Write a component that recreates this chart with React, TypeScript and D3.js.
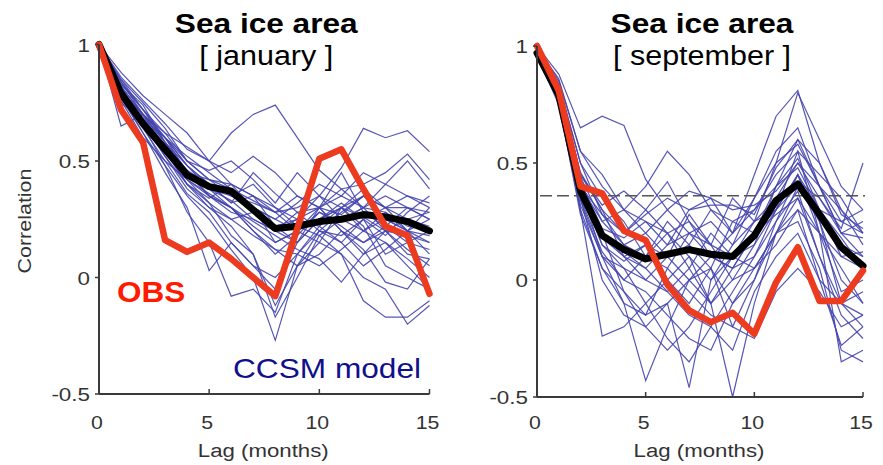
import * as d3 from 'd3';

// lag axis, months
const lags = d3.range(0, 16);
const yTicks = [1, 0.5, 0, -0.5];
const xTicks = [0, 5, 10, 15];

// january: observations, ensemble mean, ensemble members
const janObs = [1, 0.72, 0.58, 0.16, 0.11, 0.15, 0.08, 0.0, -0.08, 0.21, 0.51, 0.55, 0.38, 0.22, 0.18, -0.07];
const janMean = [1, 0.79, 0.66, 0.55, 0.44, 0.39, 0.37, 0.29, 0.21, 0.22, 0.24, 0.25, 0.27, 0.26, 0.24, 0.2];
const janMembers = [
  [1, 0.86, 0.76, 0.66, 0.55, 0.5, 0.62, 0.7, 0.74, 0.6, 0.46, 0.38, 0.3, 0.35, 0.3, 0.28],
  [1, 0.84, 0.72, 0.62, 0.5, 0.42, 0.38, 0.33, 0.28, 0.3, 0.35, 0.47, 0.64, 0.6, 0.63, 0.54],
  [1, 0.82, 0.7, 0.6, 0.48, 0.4, 0.32, 0.45, 0.36, 0.28, 0.3, 0.38, 0.4, 0.45, 0.53, 0.42],
  [1, 0.8, 0.68, 0.55, 0.42, 0.35, 0.3, 0.2, 0.12, 0.05, 0.15, 0.1, 0.0, -0.05, -0.2, -0.12],
  [1, 0.77, 0.62, 0.48, 0.35, 0.25, 0.12, 0.0, -0.27, 0.05, 0.1, 0.2, 0.15, 0.2, 0.1, 0.08],
  [1, 0.8, 0.66, 0.52, 0.4, 0.3, 0.22, 0.1, -0.17, 0.0, 0.18, 0.1, -0.1, -0.17, -0.17, -0.1],
  [1, 0.83, 0.74, 0.58, 0.45, 0.42, 0.4, 0.35, 0.3, 0.25, 0.22, 0.3, 0.26, 0.2, 0.18, 0.15],
  [1, 0.75, 0.68, 0.57, 0.46, 0.35, 0.28, 0.25, 0.2, 0.15, 0.25, 0.3, 0.22, 0.05, 0.0, -0.05],
  [1, 0.88, 0.78, 0.7, 0.62, 0.5, 0.45, 0.52, 0.45, 0.35, 0.3, 0.27, 0.35, 0.3, 0.3, 0.25],
  [1, 0.8, 0.7, 0.6, 0.52, 0.45, 0.38, 0.3, 0.25, 0.2, 0.28, 0.24, 0.3, 0.4, 0.35, 0.3],
  [1, 0.76, 0.6, 0.5, 0.42, 0.36, 0.3, 0.22, 0.15, 0.2, 0.3, 0.45, 0.28, 0.22, 0.15, 0.12],
  [1, 0.82, 0.66, 0.54, 0.4, 0.32, 0.25, 0.18, 0.12, 0.1, 0.22, 0.15, 0.05, 0.12, 0.2, 0.18],
  [1, 0.65, 0.7, 0.6, 0.48, 0.38, 0.35, 0.4, 0.3, 0.22, 0.18, 0.25, 0.3, 0.28, 0.22, 0.2],
  [1, 0.85, 0.75, 0.64, 0.5, 0.46, 0.5, 0.42, 0.32, 0.45, 0.35, 0.3, 0.38, 0.3, 0.35, 0.32],
  [1, 0.79, 0.64, 0.5, 0.36, 0.28, 0.15, 0.05, 0.0, 0.1, 0.05, 0.12, 0.2, 0.15, 0.08, 0.0],
  [1, 0.81, 0.68, 0.56, 0.44, 0.38, 0.33, 0.25, 0.2, 0.28, 0.2, 0.18, 0.25, 0.3, 0.25, 0.22],
  [1, 0.84, 0.7, 0.58, 0.46, 0.4, 0.36, 0.3, 0.22, 0.15, 0.25, 0.32, 0.25, 0.18, 0.28, 0.35],
  [1, 0.78, 0.66, 0.52, 0.38, 0.3, 0.25, 0.28, 0.2, 0.25, 0.35, 0.25, 0.2, 0.25, 0.2, 0.15],
  [1, 0.8, 0.68, 0.6, 0.5, 0.42, 0.35, 0.32, 0.28, 0.35, 0.3, 0.35, 0.3, 0.2, 0.12, 0.05],
  [1, 0.83, 0.72, 0.6, 0.45, 0.35, 0.3, 0.24, 0.18, 0.12, 0.08, -0.02, 0.1, 0.2, 0.25, 0.28],
  [1, 0.82, 0.7, 0.56, 0.42, 0.32, 0.18, 0.1, -0.12, 0.05, 0.2, 0.28, 0.35, 0.3, 0.2, 0.1],
  [1, 0.8, 0.7, 0.62, 0.56, 0.5, 0.4, 0.3, 0.25, 0.32, 0.4, 0.35, 0.45, 0.4, 0.5, 0.38],
  [1, 0.77, 0.65, 0.55, 0.45, 0.4, 0.35, 0.3, 0.15, 0.2, 0.15, 0.3, 0.2, 0.28, 0.2, 0.3],
  [1, 0.85, 0.72, 0.58, 0.45, 0.38, 0.3, 0.2, 0.1, 0.18, 0.28, 0.22, 0.15, 0.22, 0.3, 0.25],
  [1, 0.79, 0.66, 0.55, 0.4, 0.34, 0.4, 0.35, 0.22, 0.25, 0.3, 0.2, 0.12, -0.02, -0.05, 0.08],
  [1, 0.81, 0.69, 0.58, 0.48, 0.4, 0.32, 0.35, 0.28, 0.2, 0.25, 0.3, 0.35, 0.25, 0.2, 0.25],
  [1, 0.78, 0.62, 0.45, 0.3, 0.03, 0.15, 0.05, -0.05, 0.15, 0.3, 0.2, 0.1, 0.15, 0.05, -0.05],
  [1, 0.8, 0.65, 0.48, 0.28, 0.15, -0.08, -0.05, -0.15, 0.1, 0.2, 0.15, 0.25, 0.1, 0.15, 0.2],
];

// september
const sepObs = [1, 0.81, 0.4, 0.37, 0.21, 0.17, -0.02, -0.13, -0.18, -0.14, -0.23, -0.01, 0.14, -0.09, -0.09, 0.04];
const sepMean = [0.97, 0.79, 0.38, 0.19, 0.13, 0.09, 0.11, 0.13, 0.11, 0.1, 0.19, 0.34, 0.41, 0.28, 0.14, 0.06];
const sepMembers = [
  [1, 0.88, 0.65, 0.7, 0.66, 0.43, 0.3, 0.2, 0.15, 0.1, 0.25, 0.5, 0.8, 0.6, 0.4, 0.3],
  [1, 0.85, 0.55, 0.45, 0.3, 0.4, 0.55, 0.45, 0.3, 0.2, 0.45, 0.7, 0.81, 0.5, 0.3, 0.2],
  [0.98, 0.8, 0.4, 0.1, -0.1, -0.43, -0.2, 0.0, -0.1, 0.05, 0.2, 0.4, 0.6, 0.4, 0.2, 0.1],
  [0.97, 0.78, 0.35, 0.0, -0.15, -0.2, -0.1, -0.46, 0.0, 0.1, 0.15, 0.3, 0.45, 0.3, 0.1, 0.05],
  [0.96, 0.75, 0.3, -0.24, -0.2, -0.1, 0.0, 0.1, -0.1, -0.5, -0.1, 0.2, 0.35, 0.1, -0.1, -0.05],
  [0.99, 0.82, 0.45, 0.3, 0.2, 0.28, 0.35, 0.3, 0.35, 0.3, 0.32, 0.38, 0.5, 0.35, 0.22, 0.5],
  [0.97, 0.8, 0.42, 0.2, 0.1, 0.05, 0.15, 0.2, 0.1, 0.05, 0.1, 0.3, 0.55, 0.2, -0.35, -0.3],
  [0.98, 0.83, 0.5, 0.35, 0.25, 0.1, 0.05, -0.05, -0.15, -0.2, 0.0, 0.25, 0.45, 0.25, -0.1, -0.2],
  [0.96, 0.77, 0.32, 0.1, 0.0, -0.05, -0.15, -0.25, -0.3, -0.1, 0.05, 0.2, 0.3, 0.0, -0.28, -0.2],
  [0.98, 0.81, 0.4, 0.25, 0.3, 0.2, 0.1, 0.15, 0.3, 0.25, 0.2, 0.35, 0.5, 0.4, 0.3, 0.15],
  [0.97, 0.79, 0.38, 0.15, 0.05, 0.0, 0.1, 0.28, 0.15, 0.0, 0.05, 0.2, 0.4, 0.3, 0.15, 0.1],
  [0.99, 0.84, 0.5, 0.28, 0.15, 0.2, 0.3, 0.38, 0.35, 0.2, 0.3, 0.45, 0.55, 0.45, 0.35, 0.2],
  [0.96, 0.76, 0.28, 0.05, -0.05, -0.2, -0.3, -0.2, -0.05, 0.1, 0.2, 0.28, 0.35, 0.2, 0.05, -0.1],
  [0.97, 0.8, 0.36, 0.18, 0.1, 0.15, 0.0, -0.1, 0.05, -0.2, -0.25, -0.05, 0.05, -0.05, -0.2, -0.15],
  [0.98, 0.82, 0.44, 0.25, 0.15, 0.1, 0.2, 0.1, 0.0, 0.15, 0.35, 0.55, 0.65, 0.4, 0.2, 0.25],
  [0.97, 0.79, 0.35, 0.12, 0.0, 0.1, 0.25, 0.15, 0.05, 0.25, 0.3, 0.4, 0.48, 0.3, 0.25, 0.3],
  [0.96, 0.78, 0.3, 0.05, -0.1, -0.15, 0.05, 0.2, 0.25, 0.15, 0.25, 0.35, 0.42, 0.35, 0.2, 0.18],
  [0.98, 0.83, 0.45, 0.32, 0.38, 0.3, 0.2, 0.25, 0.15, 0.35, 0.25, 0.3, 0.4, 0.25, 0.0, -0.1],
  [0.97, 0.8, 0.4, 0.18, 0.12, 0.05, -0.05, 0.05, 0.2, 0.1, 0.05, 0.15, 0.3, 0.2, 0.1, 0.12],
  [0.99, 0.86, 0.55, 0.4, 0.3, 0.25, 0.15, 0.3, 0.32, 0.32, 0.28, 0.48, 0.6, 0.5, 0.28, 0.22],
  [0.96, 0.77, 0.34, 0.1, 0.05, -0.1, -0.25, -0.35, -0.2, -0.05, 0.1, 0.25, 0.38, 0.1, -0.15, -0.25],
  [0.97, 0.81, 0.42, 0.22, 0.18, 0.25, 0.2, 0.05, -0.1, 0.0, 0.15, 0.4, 0.52, 0.3, 0.18, 0.05],
  [0.98, 0.8, 0.38, 0.15, 0.08, 0.15, 0.1, 0.0, 0.1, 0.05, 0.2, 0.3, 0.45, 0.2, -0.05, 0.0],
  [0.97, 0.79, 0.36, 0.2, -0.05, -0.15, -0.1, 0.0, 0.05, -0.1, 0.0, 0.2, 0.25, 0.05, -0.3, -0.35],
  [0.96, 0.78, 0.4, 0.28, 0.2, 0.3, 0.42, 0.25, 0.1, 0.2, 0.35, 0.5, 0.58, 0.4, 0.25, 0.2],
  [0.98, 0.82, 0.46, 0.3, 0.1, 0.0, -0.05, -0.15, -0.2, -0.3, -0.05, 0.1, 0.2, 0.0, -0.1, -0.15],
];
// significance level, september panel only
const sepSignif = 0.36;

const FONT = 'Liberation Sans, Arial, Helvetica, sans-serif';
const SX = 1.13; // source glyphs are a bit wider than Liberation Sans

function Txt({ x, y, size, anchor = 'middle', weight = 'normal', fill = '#222', sx = SX, rotate = 0, children }: any) {
  return (
    <text
      transform={`translate(${x},${y}) rotate(${rotate}) scale(${sx},1)`}
      fontFamily={FONT}
      fontSize={size}
      fontWeight={weight}
      textAnchor={anchor}
      fill={fill}
    >
      {children}
    </text>
  );
}

interface PanelProps {
  x0: number;
  x1: number;
  yTop: number;
  yBot: number;
  month: string;
  obs: number[];
  mean: number[];
  members: number[][];
  signif?: number;
}

function Panel({ x0, x1, yTop, yBot, month, obs, mean, members, signif }: PanelProps) {
  const x = d3.scaleLinear().domain([0, 15]).range([x0, x1]);
  const y = d3.scaleLinear().domain([-0.5, 1]).range([yBot, yTop]);
  const line = d3
    .line<number>()
    .x((_, i) => x(lags[i]))
    .y(d => y(d));
  const cx = (x0 + x1) / 2 + 2;
  const axisCol = '#3a3a3a';

  return (
    <g>
      <Txt x={cx} y={33} size={28} weight="bold" fill="#000">Sea ice area</Txt>
      <Txt x={cx} y={65} size={27} fill="#000">{`[ ${month} ]`}</Txt>

      {members.map((m, i) => (
        <path key={i} d={line(m)!} fill="none" stroke="#4444ae" strokeWidth={1.2} strokeOpacity={0.9} />
      ))}
      {signif !== undefined && (
        <line
          x1={x0 + 3}
          x2={x1 + 2}
          y1={y(signif)}
          y2={y(signif)}
          stroke="#555"
          strokeWidth={1.3}
          strokeDasharray="12,5"
        />
      )}
      <path d={line(mean)!} fill="none" stroke="#000" strokeWidth={7} strokeLinejoin="round" strokeLinecap="round" />
      <path d={line(obs)!} fill="none" stroke="#ec3b1f" strokeWidth={6.5} strokeLinejoin="round" strokeLinecap="round" />

      <line x1={x0} x2={x0} y1={yTop} y2={yBot} stroke={axisCol} strokeWidth={2} />
      <line x1={x0} x2={x1} y1={yBot} y2={yBot} stroke={axisCol} strokeWidth={2} />
      {yTicks.map(t => (
        <g key={t}>
          <line x1={x0 - 4} x2={x0} y1={y(t)} y2={y(t)} stroke={axisCol} strokeWidth={1.5} />
          <Txt x={x0 - 9} y={y(t) + 7} size={19} anchor="end" fill="#333" sx={1.18}>{String(t)}</Txt>
        </g>
      ))}
      {xTicks.map(t => (
        <g key={t}>
          {t > 0 && <line x1={x(t)} x2={x(t)} y1={yBot} y2={yBot - 5} stroke={axisCol} strokeWidth={1.5} />}
          <Txt x={x(t) - 2} y={429} size={19} fill="#333" sx={1.12}>{String(t)}</Txt>
        </g>
      ))}
      <Txt x={cx - 3} y={457} size={19} fill="#333" sx={1.17}>Lag (months)</Txt>
    </g>
  );
}

export default function App() {
  return (
    <svg
      width={883}
      height={465}
      style={{ position: 'absolute', left: 0, top: 0, background: '#fff' }}
    >
      <Panel x0={99} x1={429.5} yTop={44.5} yBot={394} month="january" obs={janObs} mean={janMean} members={janMembers} />
      <Panel x0={537} x1={863} yTop={46} yBot={397} month="september" obs={sepObs} mean={sepMean} members={sepMembers} signif={sepSignif} />
      <Txt x={31} y={221} size={19} rotate={-90} fill="#333">Correlation</Txt>
      <Txt x={117} y={302} size={30} anchor="start" weight="bold" fill="#ff1a00" sx={1.05}>OBS</Txt>
      <Txt x={233} y={378} size={28} anchor="start" fill="#10108a">CCSM model</Txt>
    </svg>
  );
}
